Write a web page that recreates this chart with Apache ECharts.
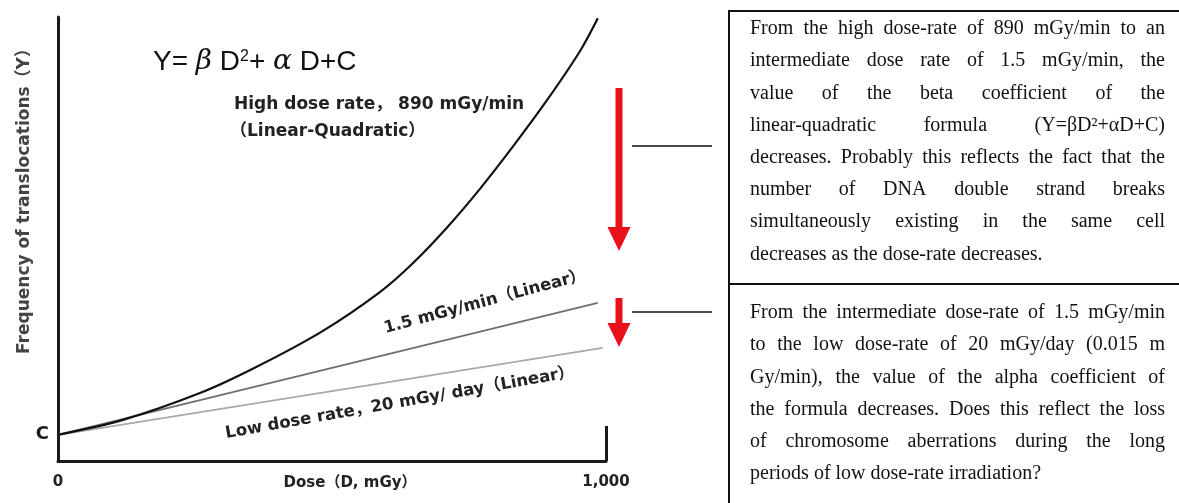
<!DOCTYPE html>
<html>
<head>
<meta charset="utf-8">
<script src="https://cdn.jsdelivr.net/npm/echarts@6/dist/echarts.min.js"></script>
<style>
  html, body { margin: 0; padding: 0; background: #fff; }
  #chart { width: 1179px; height: 503px; }
</style>
</head>
<body>
<div id="chart"></div>
<script>
// dose (mGy) and frequency, y axis scaled 0-100
const doseHigh = [0, 117, 259, 359, 482, 588, 648, 710, 770, 830, 892, 953, 985];
const freqHigh = [5.9, 9.2, 15.3, 21.0, 29.2, 38.1, 44.6, 52.6, 61.3, 70.8, 81.2, 92.4, 99.7];
const doseMid = [0, 985];
const freqMid = [5.9, 35.6];
const doseLow = [0, 994];
const freqLow = [5.9, 25.5];
const xTickLabels = [0, 1000];

const box1Lines = [
  'From the high dose-rate of 890 mGy/min to an',
  'intermediate dose rate of 1.5 mGy/min, the',
  'value of the beta coefficient of the',
  'linear-quadratic formula (Y=\u03b2D\u00b2+\u03b1D+C)',
  'decreases. Probably this reflects the fact that the',
  'number of DNA double strand breaks',
  'simultaneously existing in the same cell',
  'decreases as the dose-rate decreases.'
];
const box2Lines = [
  'From the intermediate dose-rate of 1.5 mGy/min',
  'to the low dose-rate of 20 mGy/day (0.015 m',
  'Gy/min), the value of the alpha coefficient of',
  'the formula decreases. Does this reflect the loss',
  'of chromosome aberrations during the long',
  'periods of low dose-rate irradiation?'
];

const sansFont = '"DejaVu Sans", "Noto Sans CJK JP", sans-serif';
const serifFont = '"Liberation Serif", "DejaVu Serif", serif';
const boxFontSize = 20;

function toPairs(xs, ys) {
  return xs.map(function (x, i) { return [x, ys[i]]; });
}

// justified text, one graphic text per word
let measureCtx = document.createElement('canvas').getContext('2d');
measureCtx.font = boxFontSize + 'px ' + serifFont;
function justify(lines, left, width, top, pitch) {
  let out = [];
  lines.forEach(function (line, i) {
    let y = top + i * pitch;
    let words = line.split(' ');
    if (i === lines.length - 1 || words.length < 2) {
      out.push({ type: 'text', x: left, y: y,
        style: { text: line, font: boxFontSize + 'px ' + serifFont, fill: '#111', verticalAlign: 'middle' } });
      return;
    }
    let widths = words.map(function (w) { return measureCtx.measureText(w).width; });
    let sum = widths.reduce(function (a, b) { return a + b; }, 0);
    let gap = (width - sum) / (words.length - 1);
    let x = left;
    words.forEach(function (w, j) {
      out.push({ type: 'text', x: x, y: y,
        style: { text: w, font: boxFontSize + 'px ' + serifFont, fill: '#111', verticalAlign: 'middle' } });
      x += widths[j] + gap;
    });
  });
  return out;
}

function arrow(cx, top, headTop, tip) {
  return { type: 'polygon', shape: { points: [
      [cx - 3.5, top], [cx + 3.5, top], [cx + 3.5, headTop], [cx + 11.5, headTop],
      [cx, tip], [cx - 11.5, headTop], [cx - 3.5, headTop]] },
    style: { fill: '#e8101a' } };
}

function label(text, x, y, size, deg, align) {
  return { type: 'text', x: x, y: y, rotation: (deg || 0) * Math.PI / 180,
    style: { text: text, font: 'bold ' + size + 'px ' + sansFont, fill: '#222',
      align: align || 'left', verticalAlign: 'middle' } };
}

let myChart = echarts.init(document.getElementById('chart'), null, { renderer: 'canvas' });
let option = {
  animation: false,
  backgroundColor: '#fff',
  grid: { left: 58, right: 573, top: 17, bottom: 42, containLabel: false, outerBoundsMode: 'none' },
  xAxis: {
    type: 'value', min: 0, max: 1000,
    name: 'Dose\uff08D, mGy\uff09', nameLocation: 'middle', nameGap: 15, nameMoveOverlap: false,
    nameTextStyle: { fontFamily: sansFont, fontWeight: 'bold', fontSize: 15, color: '#222', padding: [0, 0, 0, 36] },
    axisLine: { show: true, lineStyle: { color: '#1a1a1a', width: 3 } },
    axisTick: { show: true, inside: true, length: 35, customValues: [1000], lineStyle: { color: '#1a1a1a', width: 3 } },
    axisLabel: { customValues: xTickLabels, margin: 14, fontFamily: sansFont, fontWeight: 'bold', fontSize: 15, color: '#222',
      formatter: function (v) { return v.toLocaleString('en-US'); } },
    splitLine: { show: false }
  },
  yAxis: {
    type: 'value', min: 0, max: 100,
    name: 'Frequency of translocations\uff08Y\uff09', nameLocation: 'middle', nameGap: 25, nameMoveOverlap: false,
    nameTextStyle: { fontFamily: sansFont, fontWeight: 'bold', fontSize: 17, color: '#444', padding: [0, 0, 0, 84] },
    axisLine: { show: true, lineStyle: { color: '#1a1a1a', width: 3 } },
    axisTick: { show: false },
    axisLabel: { customValues: [freqHigh[0]], margin: 9, fontFamily: sansFont,
      fontSize: 18, fontWeight: 'bold', color: '#1a1a1a', formatter: function () { return 'C'; } },
    splitLine: { show: false }
  },
  series: [
    { type: 'line', name: 'Low dose rate', data: toPairs(doseLow, freqLow), showSymbol: false,
      lineStyle: { color: '#a9a9a9', width: 1.8 } },
    { type: 'line', name: '1.5 mGy/min', data: toPairs(doseMid, freqMid), showSymbol: false,
      lineStyle: { color: '#6f6f6f', width: 1.8 } },
    { type: 'line', name: 'High dose rate', data: toPairs(doseHigh, freqHigh), showSymbol: false,
      smooth: 0.3, lineStyle: { color: '#111', width: 2.2 } }
  ],
  graphic: [
    { type: 'text', x: 153, y: 62,
      style: { text: 'Y= {g|\u03b2} D{sup|2}+ {g|\u03b1} D+C', font: '28px "Liberation Sans", sans-serif', fill: '#111', verticalAlign: 'middle',
        rich: { g: { fontFamily: 'DejaVu Serif, serif', fontStyle: 'italic', fontSize: 28, fill: '#111' },
                sup: { fontSize: 16, padding: [0, 0, 11, 0], fill: '#111' } } } },
    label('High dose rate\uff0c 890 mGy/min', 234, 105, 17),
    label('\uff08Linear-Quadratic\uff09', 230, 132, 17),
    label('1.5 mGy/min\uff08Linear\uff09', 485, 302, 16.5, 15, 'center'),
    label('Low dose rate\uff0c20 mGy/ day\uff08Linear\uff09', 400, 403, 16.5, 10, 'center'),
    arrow(619, 88, 227, 251),
    arrow(619, 298, 323, 347),
    { type: 'line', shape: { x1: 632, y1: 146, x2: 712, y2: 146 }, style: { stroke: '#111', lineWidth: 1.5 } },
    { type: 'line', shape: { x1: 632, y1: 312, x2: 712, y2: 312 }, style: { stroke: '#111', lineWidth: 1.5 } },
    { type: 'rect', shape: { x: 729, y: 11, width: 500, height: 520 }, style: { fill: 'none', stroke: '#111', lineWidth: 2 } },
    { type: 'line', shape: { x1: 729, y1: 284, x2: 1179, y2: 284 }, style: { stroke: '#111', lineWidth: 2 } }
  ].concat(justify(box1Lines, 750, 415, 29, 32.2)).concat(justify(box2Lines, 750, 415, 313, 32.2))
};
myChart.setOption(option);
</script>
</body>
</html>
